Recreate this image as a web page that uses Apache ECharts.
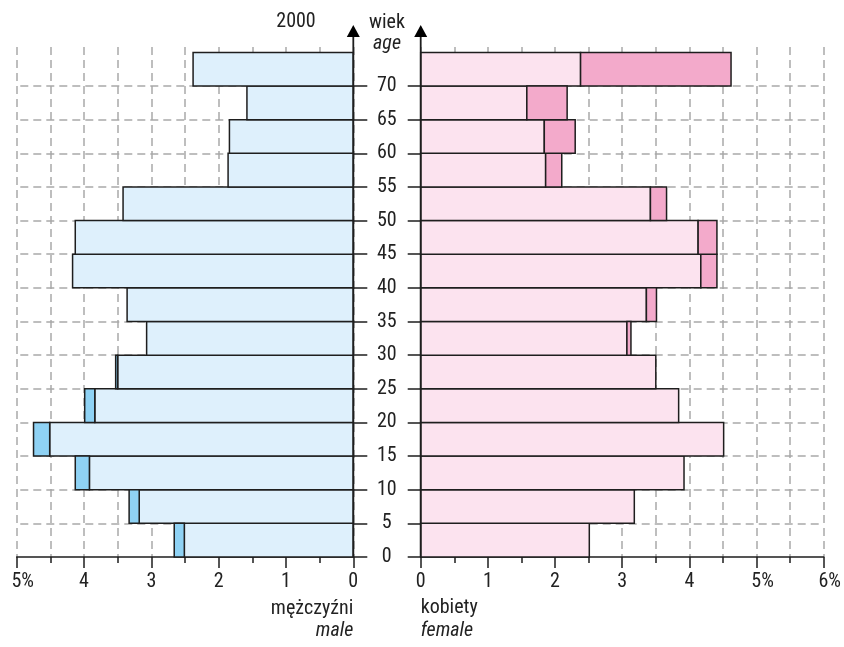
<!DOCTYPE html>
<html><head><meta charset="utf-8">
<script src="https://cdn.jsdelivr.net/npm/echarts@6/dist/echarts.min.js"></script>
<style>html,body{margin:0;padding:0;background:#fff}#c{width:844px;height:647px}</style>
</head><body><div id="c"></div>
<script>
// ---- data ----
const yearLabel = '2000';
const ageStarts = [0, 5, 10, 15, 20, 25, 30, 35, 40, 45, 50, 55, 60, 65, 70];
const ageTicks = [0, 5, 10, 15, 20, 25, 30, 35, 40, 45, 50, 55, 60, 65, 70];
const maleTotals   = [2.66, 3.33, 4.13, 4.75, 3.99, 3.53, 3.07, 3.36, 4.17, 4.13, 3.42, 1.86, 1.84, 1.58, 2.38];
const femaleTotals = [2.51, 3.18, 3.92, 4.51, 3.84, 3.50, 3.13, 3.51, 4.41, 4.41, 3.66, 2.10, 2.30, 2.18, 4.62];
const maleAxisMax = 5;
const femaleAxisMax = 6;
const percentTicks = [5, 6];
const axisTitleTop = 'wiek', axisTitleTopEn = 'age';
const maleLabel = 'mężczyźni', maleLabelEn = 'male';
const femaleLabel = 'kobiety', femaleLabelEn = 'female';

// ---- style ----
const FONT = "'Liberation Sans Narrow','Roboto Condensed','Roboto',sans-serif";
const TXT = '#222';
const STROKE = '#1e1e1e';
const GRIDC = '#a9a9a9';
const DASH = [8, 5];
const C = {mLight: '#def0fc', mDark: '#8fd2f4', fLight: '#fce3ef', fDark: '#f3aacb'};

const common = ageStarts.map((a, i) => Math.min(maleTotals[i], femaleTotals[i]));
const mLightData = ageStarts.map((a, i) => [a, 0, common[i]]);
const mDarkData = ageStarts.map((a, i) => [a, common[i], maleTotals[i]]).filter(d => d[2] > d[1]);
const fLightData = ageStarts.map((a, i) => [a, 0, common[i]]);
const fDarkData = ageStarts.map((a, i) => [a, common[i], femaleTotals[i]]).filter(d => d[2] > d[1]);

function rectRender(fill) {
  return function (params, api) {
    const age = api.value(0), from = api.value(1), to = api.value(2);
    const p0 = api.coord([from, age]);
    const p1 = api.coord([to, age + 5]);
    return {
      type: 'rect',
      shape: {x: Math.min(p0[0], p1[0]), y: Math.min(p0[1], p1[1]),
              width: Math.abs(p1[0] - p0[0]), height: Math.abs(p1[1] - p0[1])},
      style: {fill: fill, stroke: STROKE, lineWidth: 1.5}
    };
  };
}

const Y_MAX = 75.8;
const GRID_TOP = 47, GRID_BOTTOM = 90;

function xAxisCfg(gi, max, inverse) {
  return {
    gridIndex: gi, type: 'value', min: 0, max: max, interval: 1, inverse: inverse,
    axisLine: {show: true, onZero: false, lineStyle: {color: STROKE, width: 1.5}},
    axisTick: {show: true, length: 11, lineStyle: {color: STROKE, width: 1.5}},
    minorTick: {show: true, splitNumber: 2, length: 6, lineStyle: {color: STROKE, width: 1.5}},
    splitLine: {show: true, lineStyle: {color: GRIDC, type: DASH, width: 1.5}},
    minorSplitLine: {show: true, lineStyle: {color: GRIDC, type: DASH, width: 1.5}},
    axisLabel: {
      margin: 15, fontFamily: FONT, fontSize: 20, color: TXT,
      formatter: v => percentTicks.indexOf(v) >= 0 ? '{p|' + v + '%}' : String(v),
      rich: {p: {fontFamily: FONT, fontSize: 20, color: TXT, padding: [0, 0, 0, 12]}}
    }
  };
}

function yAxisCfg(gi, pos, showLabel, tickLen) {
  return {
    gridIndex: gi, type: 'value', min: 0, max: Y_MAX, position: pos,
    axisLine: {show: false},
    axisTick: {show: true, customValues: ageTicks, length: tickLen, lineStyle: {color: STROKE, width: 1.5}},
    splitLine: {show: false},
    axisLabel: {show: showLabel, customValues: ageTicks, margin: 33.5, align: 'center',
                fontFamily: FONT, fontSize: 20, color: TXT}
  };
}

const hLines = ageTicks.filter(v => v > 0).map(v => ({yAxis: v}));
function gridLineSeries(i) {
  return {
    type: 'custom', xAxisIndex: i, yAxisIndex: i, data: [], silent: true, z: 1,
    renderItem: () => null,
    markLine: {silent: true, symbol: ['none', 'none'], label: {show: false}, z: 1,
               lineStyle: {color: GRIDC, type: DASH, width: 1.5}, emphasis: {disabled: true},
               data: hLines}
  };
}

const chart = echarts.init(document.getElementById('c'), null, {renderer: 'canvas'});
chart.setOption({
  animation: false,
  grid: [
    {left: 16.7, right: 844 - 353.3, top: GRID_TOP, bottom: GRID_BOTTOM},
    {left: 420.7, right: 844 - 824.3, top: GRID_TOP, bottom: GRID_BOTTOM}
  ],
  xAxis: [xAxisCfg(0, maleAxisMax, true), xAxisCfg(1, femaleAxisMax, false)],
  yAxis: [yAxisCfg(0, 'right', true, 14), yAxisCfg(1, 'left', false, 13)],
  series: [
    gridLineSeries(0), gridLineSeries(1),
    {type: 'custom', xAxisIndex: 0, yAxisIndex: 0, z: 10, renderItem: rectRender(C.mLight), data: mLightData, encode: {x: [1, 2], y: 0}},
    {type: 'custom', xAxisIndex: 0, yAxisIndex: 0, z: 10, renderItem: rectRender(C.mDark), data: mDarkData, encode: {x: [1, 2], y: 0}},
    {type: 'custom', xAxisIndex: 1, yAxisIndex: 1, z: 10, renderItem: rectRender(C.fLight), data: fLightData, encode: {x: [1, 2], y: 0}},
    {type: 'custom', xAxisIndex: 1, yAxisIndex: 1, z: 10, renderItem: rectRender(C.fDark), data: fDarkData, encode: {x: [1, 2], y: 0}}
  ]
});

// axis lines with arrows + texts, placed from the axes' own pixel positions
const pL0 = chart.convertToPixel({gridIndex: 0}, [0, 0]);
const pR0 = chart.convertToPixel({gridIndex: 1}, [0, 0]);
const arrowTip = 25, arrowBase = 37, arrowHalf = 6.5;
function axisArrow(x, bottomY) {
  return [
    {type: 'line', shape: {x1: x, y1: bottomY, x2: x, y2: arrowBase}, style: {stroke: STROKE, lineWidth: 1.8}, z: 20},
    {type: 'polygon', shape: {points: [[x, arrowTip], [x - arrowHalf, arrowBase], [x + arrowHalf, arrowBase]]}, style: {fill: '#000'}, z: 20}
  ];
}
const midX = (pL0[0] + pR0[0]) / 2;
chart.setOption({
  graphic: [].concat(
    axisArrow(pL0[0], pL0[1]),
    axisArrow(pR0[0], pR0[1]),
    [
      {type: 'text', x: 296, y: 22, style: {text: yearLabel, font: '20px ' + FONT, fill: TXT, align: 'center', verticalAlign: 'middle'}, z: 20},
      {type: 'text', x: midX, y: 23, style: {text: axisTitleTop, font: '20px ' + FONT, fill: TXT, align: 'center', verticalAlign: 'middle'}, z: 20},
      {type: 'text', x: midX, y: 44, style: {text: axisTitleTopEn, font: 'italic 20px ' + FONT, fill: TXT, align: 'center', verticalAlign: 'middle'}, z: 20},
      {type: 'text', x: pL0[0], y: 609, style: {text: maleLabel, font: '20px ' + FONT, fill: TXT, align: 'right', verticalAlign: 'middle'}, z: 20},
      {type: 'text', x: pL0[0], y: 631, style: {text: maleLabelEn, font: 'italic 20px ' + FONT, fill: TXT, align: 'right', verticalAlign: 'middle'}, z: 20},
      {type: 'text', x: pR0[0], y: 608, style: {text: femaleLabel, font: '20px ' + FONT, fill: TXT, align: 'left', verticalAlign: 'middle'}, z: 20},
      {type: 'text', x: pR0[0], y: 631, style: {text: femaleLabelEn, font: 'italic 20px ' + FONT, fill: TXT, align: 'left', verticalAlign: 'middle'}, z: 20}
    ]
  )
});
</script></body></html>
